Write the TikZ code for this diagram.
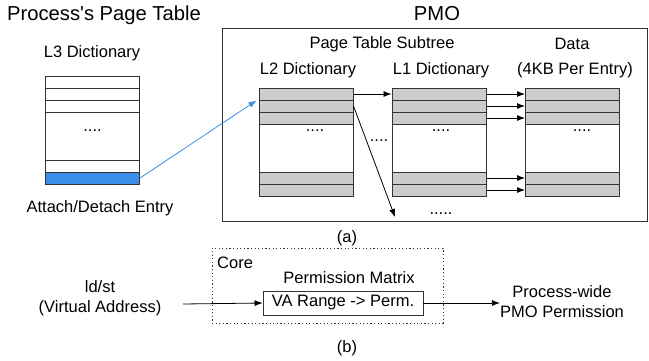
\documentclass[tikz,border=0pt]{standalone}
\usepackage{fontspec}
\setmainfont{Liberation Sans}
\usetikzlibrary{arrows.meta}

\definecolor{rowgray}{HTML}{CCCCCC}
\definecolor{attachblue}{HTML}{3B8DEA}
\definecolor{linegray}{HTML}{333333}

\begin{document}
\begin{tikzpicture}[x=1pt,y=-1pt,
  lbl/.style={font=\fontsize{16.5}{20}\selectfont,inner sep=0pt},
  ttl/.style={font=\fontsize{20.2}{23}\selectfont,inner sep=0pt},
  tbl/.style={draw=linegray,line width=0.8pt,minimum width=94pt,minimum height=108pt,inner sep=0pt},
  ent/.style={draw=linegray,line width=1pt,fill=rowgray,minimum width=94pt,minimum height=12pt,inner sep=0pt},
  blank/.style={ent,fill=white},
  ptr/.style={-{Latex[length=8pt,width=6pt]},line width=0.8pt}]
  \useasboundingbox (0,0) rectangle (649,360);

  \node[ttl] (ptitle) at (104,15) {Process\textquotesingle s Page Table};
  \node[ttl] (pmotitle) at (437,14) {PMO};
  \node[draw=linegray,line width=0.8pt,minimum width=425pt,minimum height=193pt] (pmo) at (434.5,124.5) {};

  \node[lbl] (l3title) at (92,53) {L3 Dictionary};
  \node[tbl] (l3) at (92.5,130) {};
  \foreach \i/\y in {1/82,2/94,3/106,4/166}
    \node[blank] (l3r\i) at (92.5,\y) {};
  \node[ent,fill=attachblue] (l3r5) at (92.5,178) {};
  \node[lbl] (l3dots) at (92.5,131) {....};
  \node[lbl] (attach) at (100,208) {Attach/Detach Entry};

  \node[lbl] (subtree) at (382,44) {Page Table Subtree};
  \node[lbl] (datatitle) at (572,44) {Data};
  \node[lbl] (l2title) at (308,70) {L2 Dictionary};
  \node[lbl] (l1title) at (441,70) {L1 Dictionary};
  \node[lbl] (dttitle) at (575,70) {(4KB Per Entry)};

  \foreach \t/\x in {l2/306,l1/439,dt/572.5} {
    \node[tbl] (\t) at (\x,142) {};
    \foreach \i/\y in {1/94,2/106,3/118,4/178,5/190}
      \node[ent] (\t r\i) at (\x,\y) {};
  }
  \node[lbl] (l2dots) at (315,131) {....};
  \node[lbl] (l1dots) at (441,131) {....};
  \node[lbl] (dtdots) at (582,131) {....};
  \node[lbl] (middots) at (379,141) {....};
  \node[lbl] (moredots) at (441,214) {.....};

  \draw[ptr,attachblue] (l3r5.east) -- ([xshift=-2pt]l2r1.south west);
  \draw[ptr] (l2r1.east) -- (l1r1.west);
  \coordinate (more) at (395,217);
  \draw[ptr] (l2r2.east) -- (more);
  \foreach \i in {1,...,5}
    \draw[ptr] (l1r\i.east) -- (dtr\i.west);

  \node[lbl] (capa) at (347,238) {(a)};

  \node[draw=linegray,line width=0.8pt,dash pattern=on 1.2pt off 2.4pt,minimum width=231pt,minimum height=75pt] (core) at (327.5,285.5) {};
  \node[lbl,anchor=west] (corelbl) at (217,263) {Core};
  \node[lbl] (pmtitle) at (349,278) {Permission Matrix};
  \node[lbl,draw=linegray,line width=0.8pt,minimum width=160pt,minimum height=24pt] (va) at (343,303) {VA Range -> Perm.};
  \node[lbl,align=center] (ldst) at (100,298) {ld/st\\(Virtual Address)};
  \node[lbl,align=center] (perm) at (562,302) {Process-wide\\PMO Permission};
  \coordinate (src) at (183,304);
  \draw[ptr] (src) -- (va.west);
  \draw[ptr] (va.east) -- (perm.west |- va.east);

  \node[lbl] (capb) at (347,348) {(b)};
\end{tikzpicture}
\end{document}
